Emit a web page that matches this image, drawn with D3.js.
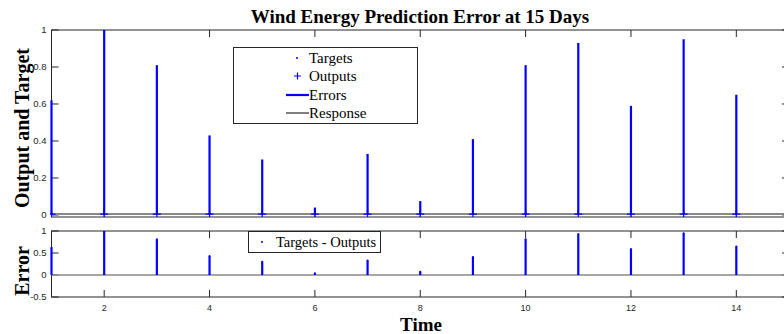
<!DOCTYPE html>
<html><head><meta charset="utf-8">
<script src="https://cdn.jsdelivr.net/npm/d3@7"></script>
<style>body{margin:0;background:#fff}svg{display:block}</style>
</head><body>
<svg id="c" width="784" height="334"></svg>
<script>
const times = [1,2,3,4,5,6,7,8,9,10,11,12,13,14];
const errors = [0.62,1.0,0.81,0.43,0.30,0.04,0.33,0.075,0.41,0.81,0.93,0.59,0.95,0.65];
const targets = [0.005,0.005,0.005,0.005,0.005,0.005,0.005,0.005,0.005,0.005,0.005,0.005,0.005,0.005];
const outputs = [0.005,0.005,0.005,0.005,0.005,0.005,0.005,0.005,0.005,0.005,0.005,0.005,0.005,0.005];
const xTicks = [2,4,6,8,10,12,14];
const yTopTicks = [0,0.2,0.4,0.6,0.8,1];
const yTopLabels = ["0","0.2","0.4","0.6","0.8","1"];
const yBotTicks = [-0.5,0,0.5,1];
const yBotLabels = ["-0.5","0","0.5","1"];
const legendTop = ["Targets","Outputs","Errors","Response"];
const legendBot = ["Targets - Outputs"];

const svg = d3.select("#c");
const blue = "#0000ff";
const x = d3.scaleLinear().domain([1,15]).range([51.5,789]);
const yT = d3.scaleLinear().domain([-0.011,1]).range([217,30]);
const yB = d3.scaleLinear().domain([-0.5,1]).range([297,231]);
const tickFont = "Helvetica, Arial, 'Liberation Sans', sans-serif";
const serif = "'Liberation Serif','Times New Roman',serif";

function frame(y, top, bottom, ticks, labels, labelsOnX) {
  const g = svg.append("g");
  g.append("rect").attr("x",x.range()[0]).attr("y",top).attr("width",x.range()[1]-x.range()[0])
    .attr("height",bottom-top).attr("fill","none").attr("stroke","#262626").attr("stroke-width",1);
  const tl = 7;
  xTicks.forEach(t=>{
    g.append("line").attr("x1",x(t)).attr("x2",x(t)).attr("y1",bottom).attr("y2",bottom-tl).attr("stroke","#262626");
    g.append("line").attr("x1",x(t)).attr("x2",x(t)).attr("y1",top).attr("y2",top+tl).attr("stroke","#262626");
    if(labelsOnX) g.append("text").attr("x",x(t)).attr("y",bottom+14).attr("text-anchor","middle")
      .attr("font-family",tickFont).attr("font-size",9).attr("fill","#262626").text(t);
  });
  ticks.forEach((t,i)=>{
    g.append("line").attr("x1",x.range()[0]).attr("x2",x.range()[0]+tl).attr("y1",y(t)).attr("y2",y(t)).attr("stroke","#262626");
    g.append("line").attr("x1",x.range()[1]).attr("x2",x.range()[1]-tl).attr("y1",y(t)).attr("y2",y(t)).attr("stroke","#262626");
    g.append("text").attr("x",x.range()[0]-5).attr("y",y(t)+3).attr("text-anchor","end")
      .attr("font-family",tickFont).attr("font-size",9.5).attr("fill","#262626").text(labels[i]);
  });
}

// top plot
frame(yT, 30, 217, yTopTicks, yTopLabels, false);
svg.append("clipPath").attr("id","ct").append("rect")
  .attr("x",x.range()[0]-1.5).attr("y",yT.range()[1]).attr("width",x.range()[1]-x.range()[0]+1.5).attr("height",yT.range()[0]-yT.range()[1]);
const gT = svg.append("g").attr("clip-path","url(#ct)");
gT.append("path").datum(times.map((t,i)=>[t,targets[i]]))
  .attr("d",d3.line().x(d=>x(d[0])).y(d=>yT(d[1])))
  .attr("stroke","#888").attr("stroke-width",2).attr("fill","none");
gT.append("line").attr("x1",x(1)).attr("x2",x(15)).attr("y1",yT(targets[0])).attr("y2",yT(targets[0]))
  .attr("stroke","#888").attr("stroke-width",2);
gT.selectAll(".e").data(times).join("line")
  .attr("x1",d=>x(d)).attr("x2",d=>x(d))
  .attr("y1",(d,i)=>yT(outputs[i])).attr("y2",(d,i)=>yT(errors[i]))
  .attr("stroke",blue).attr("stroke-width",2.2);
gT.selectAll(".o").data(times).join("path")
  .attr("d",(d,i)=>`M${x(d)-4},${yT(outputs[i])}h8M${x(d)},${yT(outputs[i])-4}v8`)
  .attr("stroke",blue).attr("stroke-width",1.2);
gT.selectAll(".t").data(times).join("circle")
  .attr("cx",d=>x(d)).attr("cy",(d,i)=>yT(targets[i])).attr("r",1).attr("fill",blue);

// top legend
const lg = svg.append("g");
lg.append("rect").attr("x",233.5).attr("y",47.5).attr("width",184).attr("height",76)
  .attr("fill","#fff").attr("stroke","#262626");
const lx = 309, ly = [58,76,95,113];
legendTop.forEach((s,i)=>{
  lg.append("text").attr("x",lx).attr("y",ly[i]+5).attr("font-family",serif).attr("font-size",15).attr("fill","#000").text(s);
});
lg.append("circle").attr("cx",297).attr("cy",ly[0]).attr("r",1).attr("fill",blue);
lg.append("path").attr("d",`M${294},${ly[1]}h7M${297.5},${ly[1]-3.5}v7`).attr("stroke",blue).attr("stroke-width",1.2);
lg.append("line").attr("x1",286).attr("x2",309).attr("y1",ly[2]).attr("y2",ly[2]).attr("stroke",blue).attr("stroke-width",2.2);
lg.append("line").attr("x1",286).attr("x2",309).attr("y1",ly[3]).attr("y2",ly[3]).attr("stroke","#000").attr("stroke-width",1);

// bottom plot
frame(yB, 231, 297, yBotTicks, yBotLabels, true);
svg.append("clipPath").attr("id","cb").append("rect")
  .attr("x",x.range()[0]-1.5).attr("y",231).attr("width",x.range()[1]-x.range()[0]+1.5).attr("height",66);
const gB = svg.append("g").attr("clip-path","url(#cb)");
gB.append("line").attr("x1",x(1)).attr("x2",x(15)).attr("y1",yB(0)).attr("y2",yB(0)).attr("stroke","#888").attr("stroke-width",1.5);
gB.selectAll(".e").data(times).join("line")
  .attr("x1",d=>x(d)).attr("x2",d=>x(d))
  .attr("y1",yB(0)).attr("y2",(d,i)=>yB(errors[i]))
  .attr("stroke",blue).attr("stroke-width",2.2);
gB.selectAll(".p").data(times).join("circle")
  .attr("cx",d=>x(d)).attr("cy",(d,i)=>yB(errors[i])).attr("r",1).attr("fill",blue);

const lb = svg.append("g");
lb.append("rect").attr("x",248.5).attr("y",231.5).attr("width",132).attr("height",21)
  .attr("fill","#fff").attr("stroke","#262626");
lb.append("circle").attr("cx",262).attr("cy",242).attr("r",1).attr("fill",blue);
lb.append("text").attr("x",276).attr("y",247).attr("font-family",serif).attr("font-size",14.5).attr("fill","#000").text(legendBot[0]);

// titles
svg.append("text").attr("x",420).attr("y",23).attr("text-anchor","middle").attr("font-family",serif)
  .attr("font-weight","bold").attr("font-size",19).text("Wind Energy Prediction Error at 15 Days");
svg.append("text").attr("transform","translate(29,128) rotate(-90)").attr("text-anchor","middle").attr("font-family",serif)
  .attr("font-weight","bold").attr("font-size",20).text("Output and Target");
svg.append("text").attr("transform","translate(29,271) rotate(-90)").attr("text-anchor","middle").attr("font-family",serif)
  .attr("font-weight","bold").attr("font-size",20).text("Error");
svg.append("text").attr("x",421).attr("y",331).attr("text-anchor","middle").attr("font-family",serif)
  .attr("font-weight","bold").attr("font-size",19).text("Time");
</script>
</body></html>
